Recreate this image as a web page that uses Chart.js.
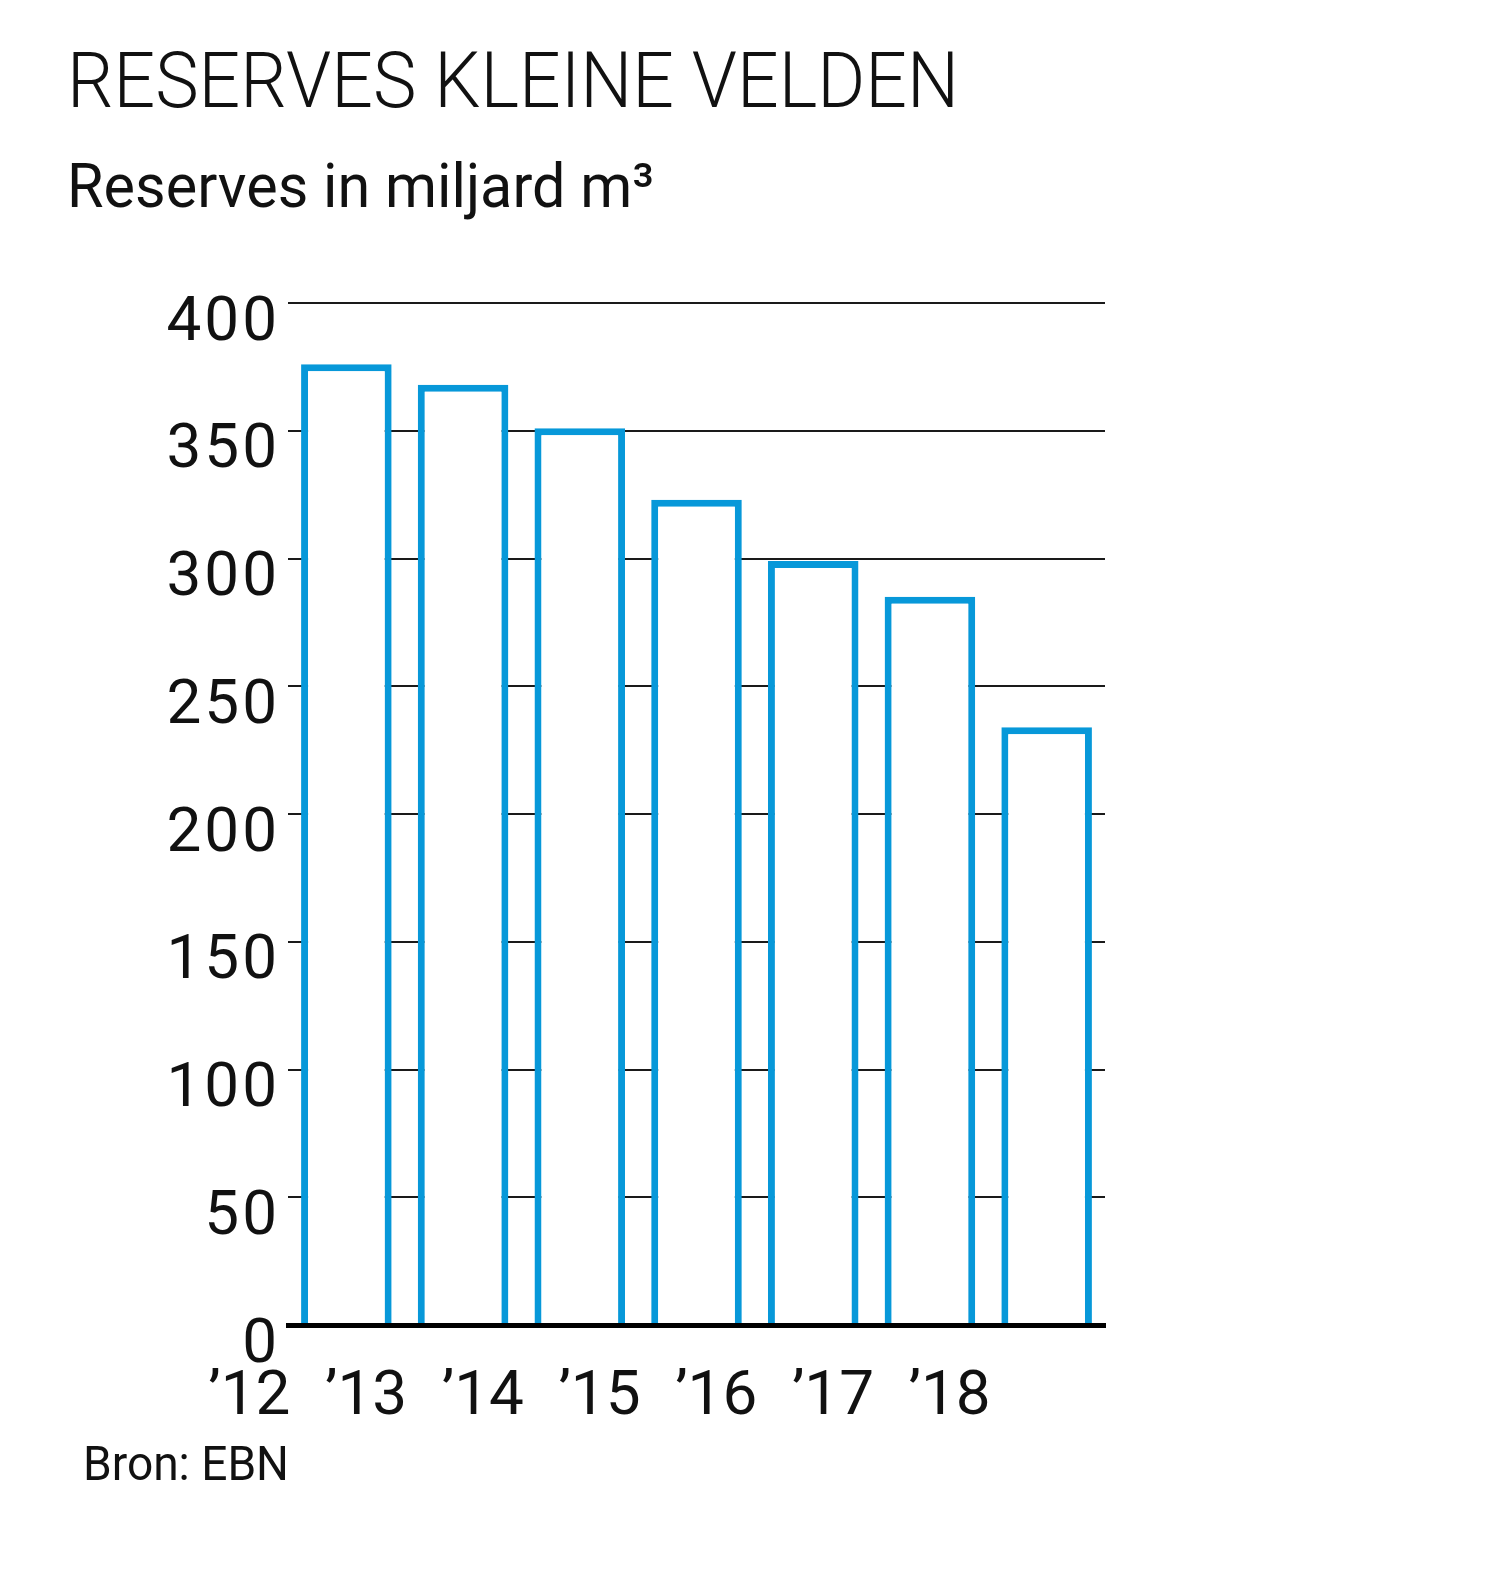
<!DOCTYPE html>
<html>
<head>
<meta charset="utf-8">
<script src="https://cdn.jsdelivr.net/npm/chart.js@4/dist/chart.umd.min.js"></script>
<style>
html,body{margin:0;padding:0;background:#fff;}
#wrap{position:relative;width:1494px;height:1572px;overflow:hidden;background:#fff;}
#c{position:absolute;left:0;top:0;}
.t{position:absolute;white-space:nowrap;transform-origin:0 0;color:#111;font-family:Roboto,"Noto Sans",sans-serif;line-height:1;display:inline-block;}
#title{left:67px;top:43px;font-size:77px;font-weight:300;}
#subtitle{left:67px;top:155px;font-size:62px;font-weight:400;}
#source{left:83px;top:1440px;font-size:48px;font-weight:400;}
</style>
</head>
<body>
<div id="wrap">
  <canvas id="c" width="1494" height="1572"></canvas>
  <span class="t" id="title">RESERVES KLEINE VELDEN</span>
  <span class="t" id="subtitle">Reserves in miljard m³</span>
  <span class="t" id="source">Bron: EBN</span>
</div>
<script>
// ---- data ----
const categories = ['2012', '2013', '2014', '2015', '2016', '2017', '2018'];
const tickLabels = ['\u201912', '\u201913', '\u201914', '\u201915', '\u201916', '\u201917', '\u201918'];
const reserves = [376, 368, 351, 323, 299, 285, 234];
const yMin = 0;
const yMax = 400;
const yStep = 50;

// ---- text fitting ----
function fitWidth(id, target) {
  const el = document.getElementById(id);
  const w = el.getBoundingClientRect().width;
  el.style.transform = 'scaleX(' + (target / w) + ')';
}
fitWidth('title', 892);
fitWidth('subtitle', 587);
fitWidth('source', 206);

const tickFont = { family: 'Roboto', size: 62, weight: 400 };

// wider spacing for the y-axis numbers only (x labels drawn after datasets)
const spacingPlugin = {
  id: 'ySpacing',
  beforeDraw(chart) { chart.ctx.letterSpacing = '3px'; },
  afterDatasetsDraw(chart) { chart.ctx.letterSpacing = '0px'; }
};

new Chart(document.getElementById('c'), {
  type: 'bar',
  data: {
    labels: tickLabels,
    datasets: [{
      label: 'Reserves',
      data: reserves,
      backgroundColor: '#ffffff',
      borderColor: '#0798d9',
      borderWidth: 7,
      borderSkipped: 'start',
      barPercentage: 0.776,
      categoryPercentage: 1.0
    }]
  },
  plugins: [spacingPlugin],
  options: {
    responsive: false,
    animation: false,
    devicePixelRatio: 1,
    layout: { padding: { left: 0, top: 303, right: 389, bottom: 0 } },
    plugins: { legend: { display: false }, tooltip: { enabled: false }, title: { display: false } },
    scales: {
      x: {
        grid: { display: false, drawTicks: false },
        border: { display: true, color: '#000', width: 5, z: 1 },
        ticks: {
          font: tickFont, color: '#111', padding: 36, labelOffset: -97, z: 1,
          maxRotation: 0, minRotation: 0, autoSkip: false
        },
        afterFit: function (s) { s.height = 247; }
      },
      y: {
        min: yMin, max: yMax,
        grid: { color: '#1a1a1a', lineWidth: 2, drawTicks: false },
        border: { display: false },
        ticks: { stepSize: yStep, font: tickFont, color: '#111', padding: 8, labelOffset: 21 },
        afterFit: function (s) { s.width = 288; }
      }
    }
  }
});
</script>
</body>
</html>
